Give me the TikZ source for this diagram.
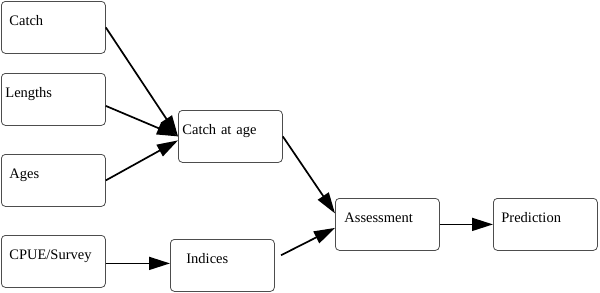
\documentclass[tikz,border=0pt]{standalone}
\usepackage{fontspec}
\setmainfont{Liberation Serif}
\usepackage{xcolor}
\definecolor{cMain}{HTML}{000000}
\definecolor{cEdge}{HTML}{4D4D4D}
\usepackage{tikz}
\usetikzlibrary{arrows.meta}
\tikzset{
  node-box/.style={draw=cEdge,line width=0.8pt,rounded corners=4pt,
    anchor=north west,text width=88pt,inner xsep=8pt,inner ysep=14pt,
    text height=10pt,text depth=14pt,align=left,
    font=\fontsize{14.5}{17}\selectfont},
  arrow/.style={-{Triangle[length=21pt,width=13pt]},line width=1.7pt,draw=cMain},
}
\begin{document}
\begin{tikzpicture}[x=1pt,y=-1pt]
  \useasboundingbox (0,0) rectangle (600,292);
  % inputs
  \node[node-box] (catch)   at (1,1)   {Catch};
  \node[node-box] (lengths) at (1,73)  {\hspace*{-4pt}Lengths};
  \node[node-box] (ages)    at (1,154) {Ages};
  \node[node-box] (cpue)    at (1,235) {CPUE/Survey};
  % derived data
  \node[node-box] (catchage) at (178,110) {\hspace*{-4pt}Catch at age};
  \node[node-box] (indices)  at (170,239) {\hspace*{8pt}Indices};
  % model
  \node[node-box] (assess)  at (335,198) {\hspace*{1pt}Assessment};
  \node[node-box] (predict) at (493,198) {Prediction};

  \draw[arrow] (catch.east) -- (catchage.west);
  \draw[arrow] ([yshift=-6.5pt]lengths.east) -- (catchage.west);
  \draw[arrow] (ages.east) -- ([yshift=-4pt]catchage.west);
  \draw[arrow] ([yshift=-2pt]cpue.east) -- ([yshift=-2pt]cpue.east -| indices.west);
  \draw[arrow] (catchage.east) -- ([yshift=11pt]assess.west);
  \draw[arrow,shorten <=7pt] ([yshift=7pt]indices.east) -- ([yshift=-3.5pt]assess.west);
  \draw[arrow] (assess.east) -- (predict.west);
\end{tikzpicture}
\end{document}
